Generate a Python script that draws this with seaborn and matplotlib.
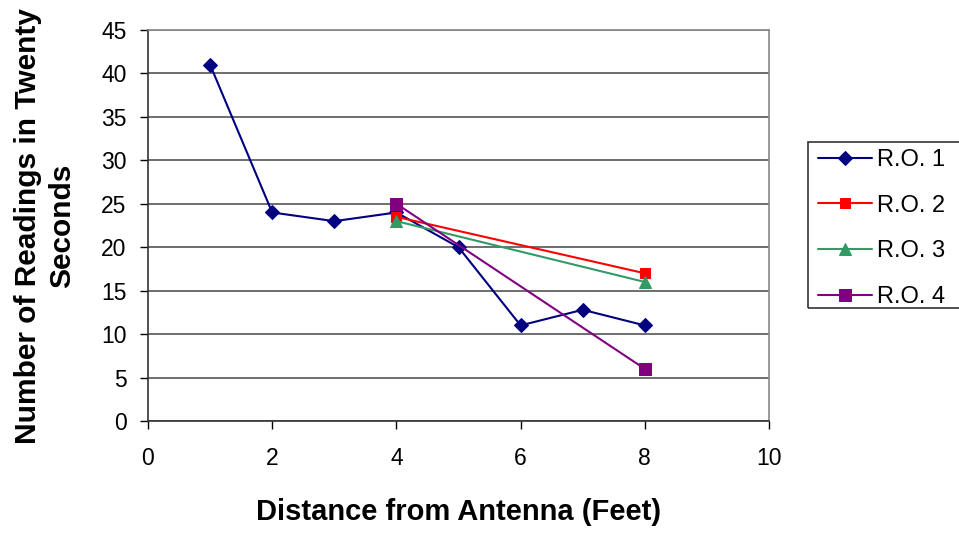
import matplotlib
matplotlib.use("Agg")
import matplotlib.pyplot as plt
from matplotlib.patches import Rectangle
import seaborn as sns
import pandas as pd

# Readings per twenty seconds at each distance, one list per R.O. series
ro1_x = [1, 2, 3, 4, 5, 6, 7, 8]
ro1_y = [41, 24, 23, 24, 20, 11, 12.8, 11]
ro2_x = [4, 8]
ro2_y = [23.5, 17]
ro3_x = [4, 8]
ro3_y = [23, 16]
ro4_x = [4, 8]
ro4_y = [25, 6]

series_names = ["R.O. 1", "R.O. 2", "R.O. 3", "R.O. 4"]
x_ticks = [0, 2, 4, 6, 8, 10]
y_ticks = [0, 5, 10, 15, 20, 25, 30, 35, 40, 45]

frames = []
for name, xs, ys in zip(series_names, [ro1_x, ro2_x, ro3_x, ro4_x],
                        [ro1_y, ro2_y, ro3_y, ro4_y]):
    frames.append(pd.DataFrame({"distance": xs, "readings": ys, "series": name}))
df = pd.concat(frames, ignore_index=True)

sns.set_style("white")
plt.rcParams["font.family"] = ["Liberation Sans", "DejaVu Sans"]
plt.rcParams["text.color"] = "black"
plt.rcParams["axes.labelcolor"] = "black"

fig = plt.figure(figsize=(9.59, 5.33), dpi=100)
ax = fig.add_axes([148 / 959, 1 - 421 / 533, (769 - 148) / 959, (421 - 30) / 533])

styles = {
    "R.O. 1": dict(color="#000080", marker="D", markersize=7),
    "R.O. 2": dict(color="#FF0000", marker="s", markersize=7.5),
    "R.O. 3": dict(color="#339966", marker="^", markersize=9),
    "R.O. 4": dict(color="#800080", marker="s", markersize=9),
}

for name in series_names:
    st = styles[name]
    sns.lineplot(data=df[df["series"] == name], x="distance", y="readings",
                 ax=ax, color=st["color"], marker=st["marker"],
                 markersize=st["markersize"], markeredgecolor=st["color"],
                 linewidth=1.5, label=name, estimator=None, sort=False)

ax.set_xlim(0, 10)
ax.set_ylim(0, 45)
ax.set_xticks(x_ticks)
ax.set_yticks(y_ticks)
ax.tick_params(axis="both", labelsize=16.5, direction="out", length=6,
               width=1, colors="#000000", left=True, bottom=True)
ax.tick_params(axis="y", pad=9.5)
ax.tick_params(axis="x", pad=13)
ax.yaxis.grid(True, color="#555555", linewidth=1.2)
ax.xaxis.grid(False)
ax.set_axisbelow(True)
for side in ["top", "right"]:
    ax.spines[side].set_color("#888888")
    ax.spines[side].set_linewidth(1.2)
for side in ["left", "bottom"]:
    ax.spines[side].set_color("#333333")
    ax.spines[side].set_linewidth(1.2)

ax.set_xlabel("Distance from Antenna (Feet)", fontsize=21, fontweight="bold",
              va="center", color="black")
ax.xaxis.set_label_coords(0.5, -91 / 391)
ax.set_ylabel("Number of Readings in Twenty\nSeconds", fontsize=21.5,
              fontweight="bold", va="center", ha="center", linespacing=1.3,
              color="black")
ax.yaxis.set_label_coords(-103 / 621, 0.5)

if ax.legend_:
    ax.legend_.remove()
handles, labels = ax.get_legend_handles_labels()
leg = fig.legend(handles, labels, loc="upper left",
                 bbox_to_anchor=(818 / 959, 1 - 149 / 533), fontsize=17,
                 frameon=False, handlelength=2.3, handletextpad=0.2,
                 labelspacing=1.0, borderpad=0.0, borderaxespad=0)

# legend frame runs past the right edge of the figure
fig.add_artist(Rectangle((808 / 959, 1 - 308 / 533), (990 - 808) / 959,
                         (308 - 142) / 533, transform=fig.transFigure,
                         fill=False, edgecolor="#333333", linewidth=1.2))

fig.savefig("out.png", dpi=100, facecolor="white")
